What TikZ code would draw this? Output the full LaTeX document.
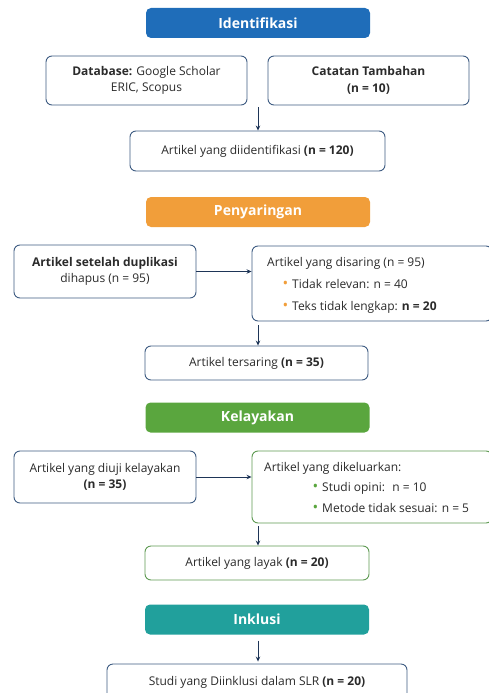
\documentclass[tikz,border=0pt]{standalone}
\usepackage{fontspec}
\setmainfont{Open Sans}
\usetikzlibrary{arrows.meta}

\definecolor{hblue}{HTML}{1F6DB9}
\definecolor{horange}{HTML}{F19E3A}
\definecolor{hgreen}{HTML}{5AA63E}
\definecolor{hteal}{HTML}{21A09C}
\definecolor{lineblue}{HTML}{3E5C82}
\definecolor{linegreen}{HTML}{5E9A52}
\definecolor{txt}{HTML}{2B2B2B}
\definecolor{arrowc}{HTML}{1E3557}

\tikzset{
  header/.style={rounded corners=5pt, minimum width=224pt, minimum height=30pt,
    text=white, font=\fontsize{14}{16}\selectfont\bfseries, inner sep=0pt},
  card/.style={draw=lineblue, line width=0.9pt, rounded corners=6pt, fill=white,
    text=txt, font=\fontsize{12}{16.5}\selectfont, inner sep=0pt, align=center},
  gcard/.style={card, draw=linegreen},
  arr/.style={draw=arrowc, line width=1pt, -{Stealth[length=5pt,width=4.5pt]}}
}
\newcommand{\dotitem}[2]{\hspace*{#1}\llap{\textcolor{#2}{\fontsize{15}{15}\selectfont\textbullet}\hspace{4pt}}}

\begin{document}
\begin{tikzpicture}[x=1pt,y=-1pt]
\useasboundingbox (0,0) rectangle (488,693);

% Identifikasi
\node[header, fill=hblue] (hIdent) at (258,23) {Identifikasi};
\node[card, minimum width=201pt, minimum height=49pt] (dbBox) at (146.5,80.5)
  {\textbf{Database:} Google Scholar\\ERIC, Scopus};
\node[card, minimum width=201pt, minimum height=49pt] (ctBox) at (368.5,80.5)
  {\textbf{Catatan Tambahan}\\\textbf{(n = 10)}};
\node[card, minimum width=255pt, minimum height=40pt] (idBox) at (257.5,151)
  {Artikel yang diidentifikasi \textbf{(n = 120)}};
\coordinate (j1) at (258,107);
\draw[arr] (j1) -- (j1 |- idBox.north);

% Penyaringan
\node[header, fill=horange] (hSaring) at (258,212) {Penyaringan};
\node[card, minimum width=182pt, minimum height=53pt] (dupBox) at (105,271.5)
  {\textbf{Artikel setelah duplikasi}\\dihapus (n = 95)};
\node[card, minimum width=240pt, minimum height=75pt] (sarBox) at (372,283.5) {};
\node[anchor=north west, inner sep=0pt, text=txt, align=left,
  font=\fontsize{12}{22}\selectfont] (sarTxt) at (267,257)
  {Artikel yang disaring (n = 95)\\
   \dotitem{25pt}{horange}Tidak relevan: n = 40\\
   \dotitem{25pt}{horange}Teks tidak lengkap: \textbf{n = 20}};
\draw[arr] (dupBox.east) -- (sarBox.west |- dupBox.east);
\node[card, minimum width=223pt, minimum height=34pt] (terBox) at (256.5,363)
  {Artikel tersaring \textbf{(n = 35)}};
\coordinate (j2) at (258,325);
\draw[arr] (j2) -- (j2 |- terBox.north);

% Kelayakan
\node[header, fill=hgreen] (hLayak) at (257.5,417.5) {Kelayakan};
\node[card, minimum width=182pt, minimum height=52pt] (ujiBox) at (105,477)
  {Artikel yang diuji kelayakan\\\textbf{(n = 35)}};
\node[gcard, minimum width=240pt, minimum height=72pt] (kelBox) at (372,487) {};
\node[anchor=north west, inner sep=0pt, text=txt, align=left,
  font=\fontsize{12}{20.5}\selectfont] (kelTxt) at (264,462)
  {Artikel yang dikeluarkan:\\
   \dotitem{58pt}{hgreen}Studi opini:~ n = 10\\
   \dotitem{58pt}{hgreen}Metode tidak sesuai: n = 5};
\draw[arr] (ujiBox.east) -- (kelBox.west |- ujiBox.east);
\node[gcard, minimum width=224pt, minimum height=34pt] (layBox) at (257,563)
  {Artikel yang layak \textbf{(n = 20)}};
\coordinate (j3) at (258,526);
\draw[arr] (j3) -- (j3 |- layBox.north);

% Inklusi
\node[header, fill=hteal] (hInklusi) at (257,619.5) {Inklusi};
\node[card, minimum width=300pt, minimum height=36pt] (slrBox) at (257,682)
  {Studi yang Diinklusi dalam SLR \textbf{(n = 20)}};
\draw[arr, shorten <=6pt, shorten >=2pt] (hInklusi.south -| j3) -- (j3 |- slrBox.north);
\end{tikzpicture}
\end{document}
